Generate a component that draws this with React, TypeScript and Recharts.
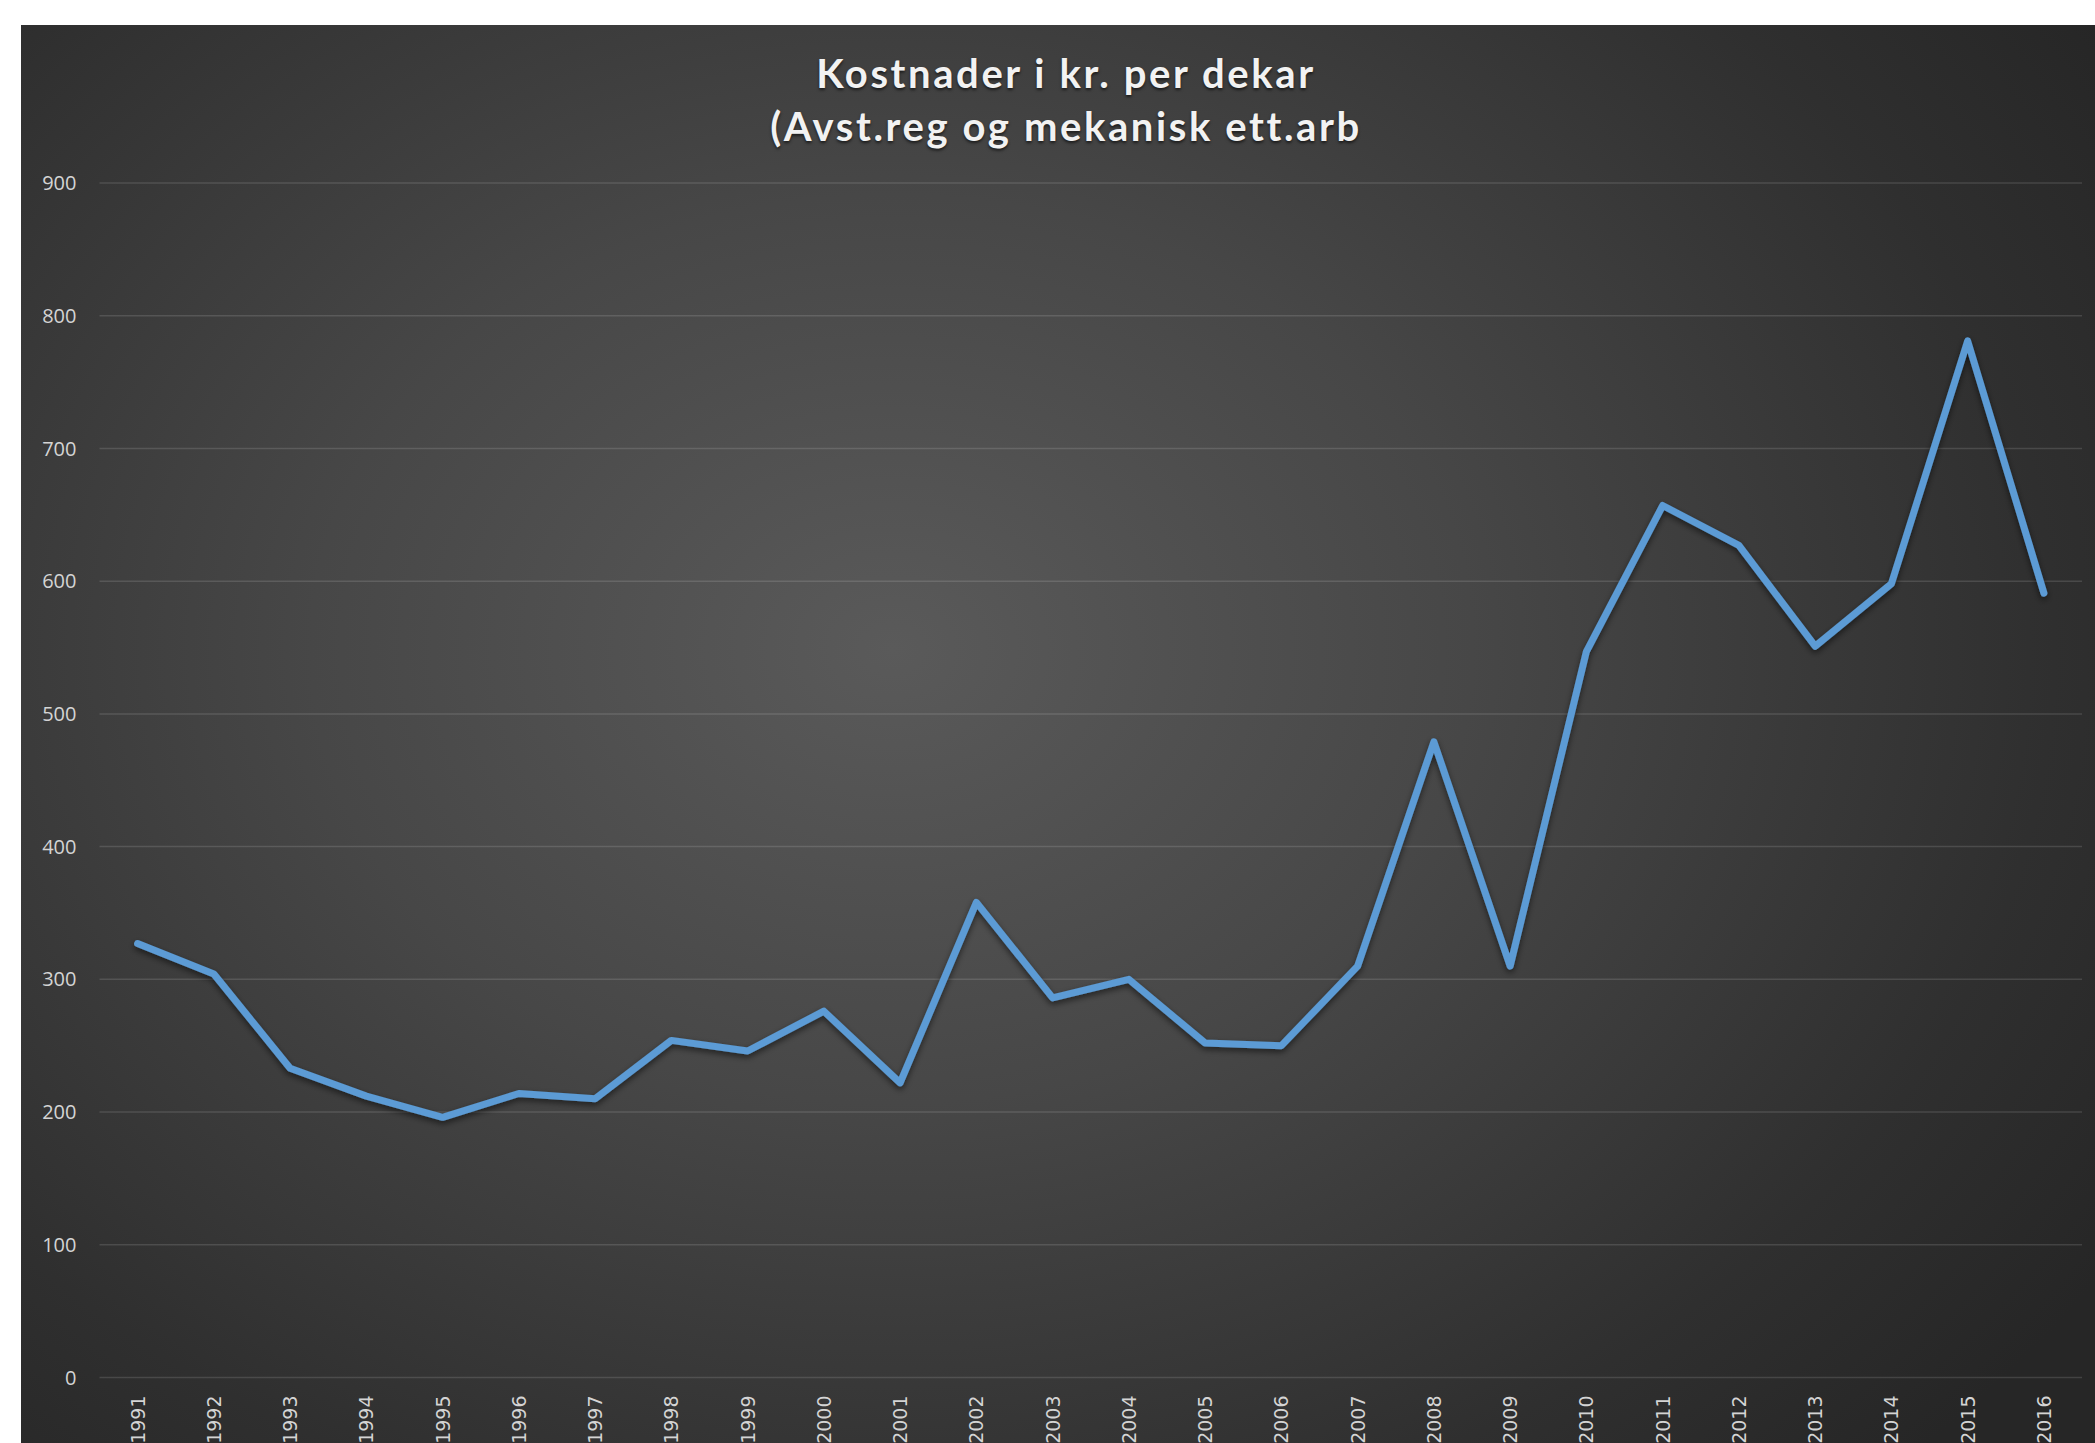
import { CartesianGrid, Line, LineChart, XAxis, YAxis } from 'recharts';

const years = [
  '1991', '1992', '1993', '1994', '1995', '1996', '1997', '1998', '1999', '2000',
  '2001', '2002', '2003', '2004', '2005', '2006', '2007', '2008', '2009', '2010',
  '2011', '2012', '2013', '2014', '2015', '2016',
];
const costs = [
  327, 304, 233, 212, 196, 214, 210, 254, 246, 276,
  222, 358, 286, 300, 252, 250, 310, 479, 310, 547,
  657, 627, 551, 598, 781, 591,
];
const yTicks = [0, 100, 200, 300, 400, 500, 600, 700, 800, 900];
const titleLines = ['Kostnader i kr. per dekar', '(Avst.reg og mekanisk ett.arb'];

const data = years.map((year, i) => ({ year, cost: costs[i] }));

function YearTick({ x, y, payload }: any) {
  return (
    <text
      x={x}
      y={y}
      transform={`rotate(-90 ${x} ${y})`}
      textAnchor="end"
      dominantBaseline="central"
      fill="#d4d4d4"
      fontSize={19}
      fontFamily="DejaVu Sans"
    >
      {payload.value}
    </text>
  );
}

export default function App() {
  return (
    <div
      style={{
        position: 'absolute',
        left: 21,
        top: 25,
        width: 2074,
        height: 1418,
        overflow: 'hidden',
        background:
          'radial-gradient(ellipse 70% 80% at 42% 44%, #5a5a5a 0%, #474747 40%, #2f2f2f 80%, #262626 100%)',
      }}
    >
      <div
        style={{
          position: 'absolute',
          top: 22,
          left: 0,
          width: '100%',
          paddingLeft: 16,
          boxSizing: 'border-box',
          textAlign: 'center',
          fontFamily: 'Lato',
          fontWeight: 700,
          fontSize: 40,
          lineHeight: '53px',
          letterSpacing: 2.6,
          color: '#f2f2f2',
          textShadow: '0 2px 3px rgba(0,0,0,0.6)',
        }}
      >
        {titleLines.map((t) => (
          <div key={t}>{t}</div>
        ))}
      </div>
      <LineChart width={2074} height={1418} data={data} margin={{ top: 158, right: 13, left: 0, bottom: 0 }}>
        <defs>
          <filter id="lineShadow" x="-5%" y="-5%" width="110%" height="110%">
            <feDropShadow dx="0" dy="3" stdDeviation="3" floodColor="#000" floodOpacity="0.55" />
          </filter>
        </defs>
        <CartesianGrid vertical={false} stroke="rgba(255,255,255,0.13)" strokeWidth={1.5} />
        <XAxis
          dataKey="year"
          height={65.5}
          padding={{ left: 38.1, right: 38.1 }}
          axisLine={false}
          tickLine={false}
          tickSize={0}
          tickMargin={18}
          interval={0}
          tick={<YearTick />}
        />
        <YAxis
          width={78.5}
          domain={[0, 900]}
          ticks={yTicks}
          interval={0}
          axisLine={false}
          tickLine={false}
          tickSize={0}
          tickMargin={23}
          tick={{ fill: '#d4d4d4', fontSize: 20, fontFamily: 'Open Sans' }}
        />
        <Line
          type="linear"
          dataKey="cost"
          stroke="#5b9bd5"
          strokeWidth={7}
          strokeLinecap="round"
          strokeLinejoin="round"
          dot={false}
          activeDot={false}
          filter="url(#lineShadow)"
          isAnimationActive={false}
        />
      </LineChart>
    </div>
  );
}
